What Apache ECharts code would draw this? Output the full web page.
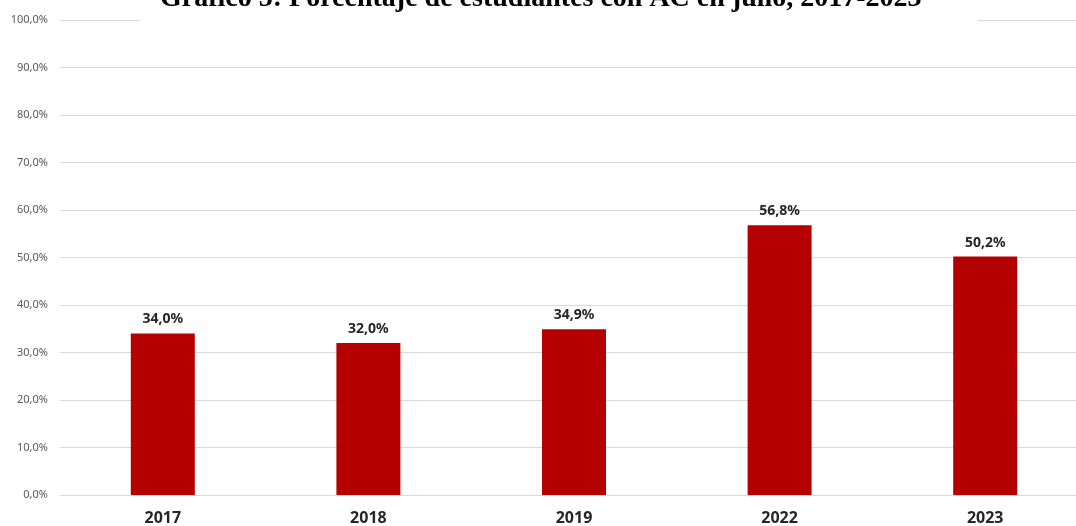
<!DOCTYPE html>
<html><head><meta charset="utf-8">
<script src="https://cdn.jsdelivr.net/npm/echarts@6/dist/echarts.min.js"></script>
<style>html,body{margin:0;padding:0;background:#fff;overflow:hidden}#c{width:1100px;height:526px}</style>
</head><body><div id="c"></div>
<script>
const categories = ['2017', '2018', '2019', '2022', '2023'];
const values = [34.0, 32.0, 34.9, 56.8, 50.2];
const titleText = 'Gráfico 5: Porcentaje de estudiantes con AC en julio, 2017-2023';
const fmt = v => v.toFixed(1).replace('.', ',') + '%';

const chart = echarts.init(document.getElementById('c'));
chart.setOption({
  backgroundColor: '#fff',
  animation: false,
  title: {
    text: titleText,
    left: 140,
    top: -15,
    backgroundColor: '#fff',
    padding: [0, 56, 13, 20],
    textStyle: { fontFamily: 'Liberation Serif', fontWeight: 'bold', fontSize: 28, color: '#000' }
  },
  grid: { left: 60, top: 20, width: 1028, height: 475 },
  xAxis: {
    type: 'category',
    data: categories,
    axisLine: { lineStyle: { color: '#d9d9d9' } },
    axisTick: { show: false },
    axisLabel: { fontFamily: 'Noto Sans', fontWeight: 'bold', fontSize: 16, color: '#262626', margin: 15 }
  },
  yAxis: {
    type: 'value',
    min: 0, max: 100, interval: 10,
    axisLine: { show: false },
    axisTick: { show: false },
    splitLine: { lineStyle: { color: '#d9d9d9', width: 1 } },
    axisLabel: { fontFamily: 'Noto Sans', fontSize: 11, color: '#595959', margin: 12, formatter: v => fmt(v) }
  },
  series: [{
    type: 'bar',
    data: values,
    barWidth: 64,
    itemStyle: { color: '#B40000' },
    z: 1,
    label: {
      show: true, position: 'top', distance: 7,
      fontFamily: 'Noto Sans', fontWeight: 'bold', fontSize: 14, color: '#262626',
      formatter: p => fmt(p.value)
    }
  }]
});
</script></body></html>
